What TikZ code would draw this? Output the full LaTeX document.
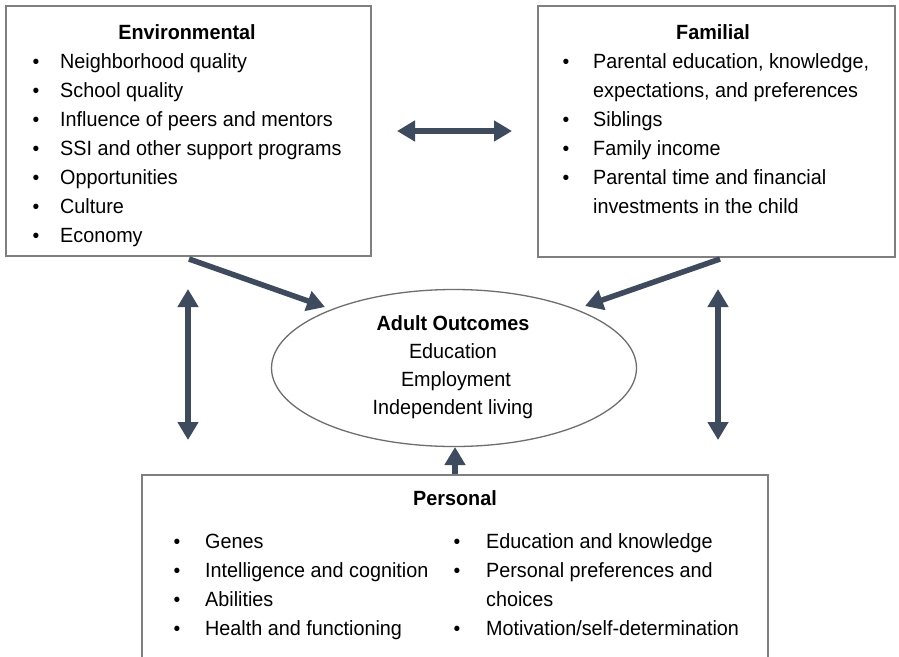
\documentclass[tikz,border=0pt]{standalone}
\usepackage{fontspec}
\setmainfont{Liberation Sans}[FakeStretch=0.96]
\usetikzlibrary{arrows.meta,shapes.geometric}
\definecolor{framegray}{HTML}{7F7F7F}
\definecolor{ringgray}{HTML}{6E6E6E}
\definecolor{slateblue}{HTML}{3E4A5E}
\begin{document}
\begin{tikzpicture}[x=1pt,y=-1pt,
  panel/.style={draw=framegray, line width=1.5pt, inner sep=0pt, anchor=north west},
  txt/.style={inner sep=0pt, font=\fontsize{20.6}{24}\selectfont},
  item/.style={txt, anchor=base west},
  dot/.style={txt, anchor=base, font=\fontsize{20}{24}\selectfont},
  heading/.style={txt, anchor=base, font=\fontsize{20.6}{24}\selectfont\bfseries},
  link/.style={draw=slateblue, line width=5.5pt, -{Triangle[width=20pt,length=18pt]}},
  twoway/.style={draw=slateblue, line width=5.5pt, {Triangle[width=20pt,length=18pt]}-{Triangle[width=20pt,length=18pt]}}
]
\useasboundingbox (0,0) rectangle (899,656);
\fill[white] (0,0) rectangle (899,656);

% ---------- frames ----------
\node[panel, minimum width=365pt, minimum height=250pt] (env) at (5,5) {};
\node[panel, minimum width=357pt, minimum height=251pt] (fam) at (537,5) {};
\node[panel, minimum width=626pt, minimum height=220pt] (pers) at (141,474) {};
\node[draw=ringgray, line width=1.3pt, ellipse, minimum width=365pt, minimum height=157pt] (out) at (454,368) {};

% ---------- environmental ----------
\node[heading] (envhead) at (187,39) {Environmental};
\foreach \t [count=\i from 0] in {Neighborhood quality, School quality,
    Influence of peers and mentors, SSI and other support programs,
    Opportunities, Culture, Economy} {
  \node[dot] (envb\i) at (36,68+29*\i) {\textbullet};
  \node[item] (envi\i) at (60,68+29*\i) {\t};
}

% ---------- familial ----------
\node[heading] (famhead) at (713,39) {Familial};
\node[dot] (famb0) at (566,68) {\textbullet};
\node[item] (fami0) at (593,68) {Parental education, knowledge,};
\node[item] (fami0b) at (593,97) {expectations, and preferences};
\node[dot] (famb1) at (566,126) {\textbullet};
\node[item] (fami1) at (593,126) {Siblings};
\node[dot] (famb2) at (566,155) {\textbullet};
\node[item] (fami2) at (593,155) {Family income};
\node[dot] (famb3) at (566,184) {\textbullet};
\node[item] (fami3) at (593,184) {Parental time and financial};
\node[item] (fami3b) at (593,213) {investments in the child};

% ---------- outcomes ----------
\node[heading] (outhead) at (453,330) {Adult Outcomes};
\node[txt, anchor=base] (out1) at (453,358) {Education};
\node[txt, anchor=base] (out2) at (456,386) {Employment};
\node[txt, anchor=base] (out3) at (453,414) {Independent living};

% ---------- personal ----------
\node[heading] (pershead) at (455,505) {Personal};
\foreach \t [count=\i from 0] in {Genes, Intelligence and cognition,
    Abilities, Health and functioning} {
  \node[dot] (persb\i) at (177,548+29*\i) {\textbullet};
  \node[item] (persi\i) at (205,548+29*\i) {\t};
}
\node[dot] (persc0) at (457,548) {\textbullet};
\node[item] (persj0) at (486,548) {Education and knowledge};
\node[dot] (persc1) at (457,577) {\textbullet};
\node[item] (persj1) at (486,577) {Personal preferences and};
\node[item] (persj1b) at (486,606) {choices};
\node[dot] (persc2) at (457,635) {\textbullet};
\node[item] (persj2) at (486,635) {Motivation/self-determination};

% ---------- connector end points ----------
\coordinate (envfoot) at (189,259);
\coordinate (envhit) at (325,307);
\coordinate (famfoot) at (720,259);
\coordinate (famhit) at (585,306);
\coordinate (midL) at (397,131);
\coordinate (midR) at (512,131);
\coordinate (leftTop) at (188,289);
\coordinate (leftBot) at (188,440);
\coordinate (rightTop) at (718,289);
\coordinate (rightBot) at (718,440);
\coordinate (persTop) at (455,474);
\coordinate (outBot) at (455,447);

% ---------- connectors ----------
\draw[twoway] (midL) -- (midR);
\draw[link] (envfoot) -- (envhit);
\draw[link] (famfoot) -- (famhit);
\draw[twoway] (leftTop) -- (leftBot);
\draw[twoway] (rightTop) -- (rightBot);
\draw[link] (persTop) -- (outBot);
\end{tikzpicture}
\end{document}
